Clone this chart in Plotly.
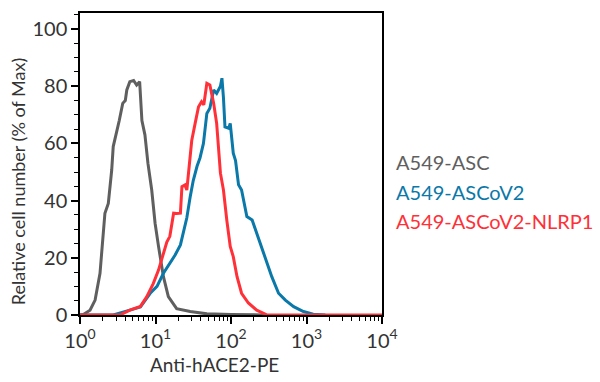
import plotly.graph_objects as go

# Fluorescence intensity (log10 of Anti-hACE2-PE) and % of max
asc_log = [0.0, 0.044, 0.133, 0.2, 0.265, 0.31, 0.33, 0.375, 0.42, 0.44, 0.46, 0.487, 0.52, 0.566, 0.6, 0.62,
           0.66, 0.71, 0.75, 0.79, 0.8, 0.82, 0.86, 0.9, 0.95, 0.995, 1.04, 1.105, 1.17, 1.28, 1.46, 1.68,
           2.0, 2.45]
asc_val = [0.0, 0.2, 1.7, 5.2, 14.6, 27.4, 35.6, 39, 50.7, 58.9, 61, 63.6, 68, 74, 75, 78.7,
           81.6, 82, 80.4, 81.6, 76, 68, 63, 53, 43.7, 32, 24, 13.4, 6.4, 2.2, 1.2, 0.4,
           0.2, 0.0]

cov2_log = [0.0, 0.44, 0.66, 0.8, 0.93, 1.02, 1.105, 1.19, 1.26, 1.33, 1.37, 1.415, 1.46, 1.5, 1.55, 1.59,
            1.635, 1.68, 1.72, 1.77, 1.81, 1.86, 1.88, 1.9, 1.92, 1.97, 1.99, 2.03, 2.06, 2.1, 2.14, 2.17,
            2.21, 2.28, 2.34, 2.41, 2.48, 2.54, 2.63, 2.72, 2.83, 2.96, 3.09, 3.25]
cov2_val = [0.0, 0.0, 1.7, 2.8, 7.6, 10, 14.6, 18, 21, 24.5, 28.6, 34, 41.4, 47, 52, 55,
            60, 70.5, 72.3, 78.7, 77.5, 80, 82.8, 76, 65.8, 65.3, 67, 56.6, 54, 45.5, 43.7, 40,
            34.4, 33.2, 28.6, 23.9, 18, 13.4, 7.6, 5.2, 2.9, 1.2, 0.3, 0.0]

nlrp1_log = [0.0, 0.53, 0.66, 0.8, 0.885, 0.97, 1.04, 1.105, 1.15, 1.19, 1.24, 1.28, 1.33, 1.35, 1.39, 1.415,
             1.45, 1.48, 1.525, 1.57, 1.61, 1.64, 1.68, 1.72, 1.77, 1.81, 1.86, 1.9, 1.945, 1.99, 2.03, 2.08,
             2.14, 2.23, 2.34, 2.48, 4.0]
nlrp1_val = [0.0, 0.0, 1.7, 3.0, 6.4, 11, 15.7, 21, 25.5, 27.5, 35.6, 35.5, 35.6, 44.9, 45.5, 43.7,
             53, 61, 67, 72.8, 74.6, 73.5, 81, 80.4, 74, 67, 49.6, 43.7, 33, 24, 20.4, 13.4,
             7.6, 4.2, 1.7, 0.0, 0.0]

series_names = ["A549-ASC", "A549-ASCoV2", "A549-ASCoV2-NLRP1"]
series_colors = ["#5f5f5f", "#0a78a8", "#ff3038"]

x_tick_exp = [0, 1, 2, 3, 4]
y_ticks = [0, 20, 40, 60, 80, 100]

FONT = "Lato"
TXT = "#333333"

fig = go.Figure()
for lg, val, name, col in [(asc_log, asc_val, series_names[0], series_colors[0]),
                           (cov2_log, cov2_val, series_names[1], series_colors[1]),
                           (nlrp1_log, nlrp1_val, series_names[2], series_colors[2])]:
    fig.add_trace(go.Scatter(x=[10 ** v for v in lg], y=val, mode="lines", name=name,
                             line=dict(color=col, width=3, shape="linear"), showlegend=False))

minor_vals = [m * 10 ** d for d in range(4) for m in range(2, 10)]

fig.update_xaxes(type="log", range=[0, 4.0], tickvals=[10 ** e for e in x_tick_exp],
                 ticktext=[f"10<sup>{e}</sup>" for e in x_tick_exp],
                 ticks="outside", ticklen=7, tickwidth=1.5, tickcolor="#000", automargin=False,
                 minor=dict(tickvals=minor_vals, ticks="outside", ticklen=4, tickcolor="#000", tickwidth=1),
                 showline=True, linecolor="#000", linewidth=1.5, mirror=True, showgrid=False, zeroline=False,
                 tickfont=dict(family=FONT, size=20, color=TXT))
fig.update_yaxes(range=[0, 105.6], tickvals=y_ticks, ticks="outside", ticklen=7, tickwidth=1.5, tickcolor="#000",
                 minor=dict(dtick=5, ticks="outside", ticklen=4, tickcolor="#000", tickwidth=1),
                 showline=True, linecolor="#000", linewidth=1.5, mirror=True, showgrid=False, zeroline=False,
                 automargin=False, tickfont=dict(family=FONT, size=20, color=TXT))

# Axis titles
fig.add_annotation(text="Anti-hACE2-PE", xref="paper", yref="paper", x=0.445, y=-0.165,
                   xanchor="center", yanchor="middle", showarrow=False,
                   font=dict(family=FONT, size=19, color=TXT))
fig.add_annotation(text="Relative cell number (% of Max)", xref="paper", yref="paper", x=-0.205, y=0.44,
                   xanchor="center", yanchor="middle", showarrow=False, textangle=-90,
                   font=dict(family=FONT, size=18, color=TXT))

for i, (name, col) in enumerate(zip(series_names, series_colors)):
    fig.add_annotation(text=name, xref="paper", yref="paper", x=1.04, y=0.505 - 0.097 * i,
                       xanchor="left", yanchor="middle", showarrow=False,
                       font=dict(family=FONT, size=20, color=col))

fig.update_layout(width=600, height=382, margin=dict(l=80, r=218, t=13, b=67),
                  plot_bgcolor="white", paper_bgcolor="white")
fig.write_html("out.html", config={"displayModeBar": False},
               post_script="document.body.style.margin='0';")
